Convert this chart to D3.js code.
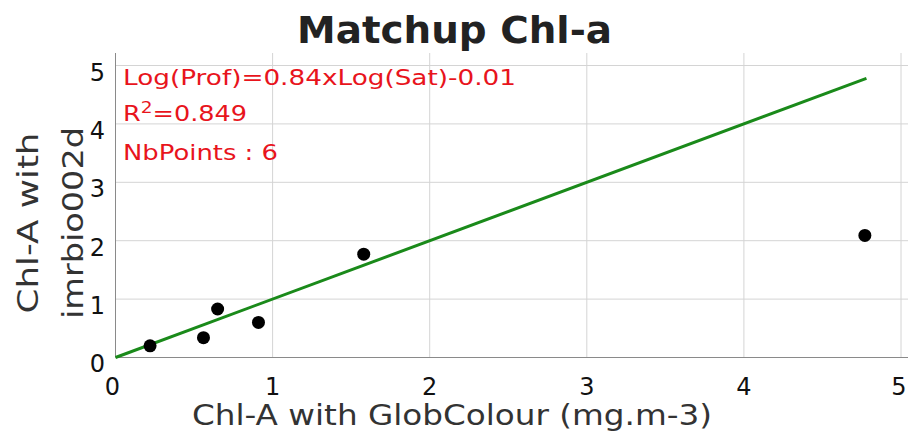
<!DOCTYPE html>
<html><head><meta charset="utf-8">
<script src="https://cdn.jsdelivr.net/npm/d3@7"></script>
<style>body{margin:0;background:#fff}svg{display:block}</style>
</head><body>
<script>
const satValues = [0.22, 0.56, 0.65, 0.91, 1.58, 4.77];
const profValues = [0.20, 0.34, 0.83, 0.60, 1.77, 2.09];
const xTicks = [0, 1, 2, 3, 4, 5];
const yTicks = [0, 1, 2, 3, 4, 5];
const fitLine = [[0, 0], [4.78, 4.78]];
const annotations = ["Log(Prof)=0.84xLog(Sat)-0.01", "R2=0.849", "NbPoints : 6"];
const title = "Matchup Chl-a";
const xTitle = "Chl-A with GlobColour (mg.m-3)";
const yTitle = ["Chl-A with", "imrbio002d"];

const W = 909, H = 443;
const svg = d3.select("body").append("svg").attr("width", W).attr("height", H);
const x = d3.scaleLinear().domain([0, 5]).range([115.5, 901]);
const y = d3.scaleLinear().domain([0, 5]).range([357.5, 65.5]);
const font = "DejaVu Sans, Verdana, sans-serif";
const plotTop = 53, plotRight = 908;

// grid
svg.append("g").selectAll("line").data(xTicks.slice(1)).join("line")
  .attr("x1", d => x(d)).attr("x2", d => x(d)).attr("y1", plotTop).attr("y2", y(0))
  .attr("stroke", "#d4d4d4").attr("stroke-width", 1);
svg.append("g").selectAll("line").data(yTicks.slice(1)).join("line")
  .attr("x1", x(0)).attr("x2", plotRight).attr("y1", d => y(d)).attr("y2", d => y(d))
  .attr("stroke", "#d4d4d4").attr("stroke-width", 1);
// axes lines
svg.append("line").attr("x1", x(0)).attr("x2", x(0)).attr("y1", plotTop).attr("y2", y(0)).attr("stroke", "#8a8a8a");
svg.append("line").attr("x1", x(0)).attr("x2", plotRight).attr("y1", y(0)).attr("y2", y(0)).attr("stroke", "#8a8a8a");

// tick labels
svg.append("g").selectAll("text").data(yTicks).join("text")
  .attr("x", 105).attr("y", d => y(d) + (d === 0 ? 14 : 15)).attr("text-anchor", "end")
  .attr("font-family", font).attr("font-size", 24).attr("fill", "#111").text(d => d);
svg.append("g").selectAll("text").data(xTicks).join("text")
  .attr("x", d => x(d) + (d === 0 ? -3 : d === 5 ? -2 : 0)).attr("y", 395).attr("text-anchor", "middle")
  .attr("font-family", font).attr("font-size", 24).attr("fill", "#111").text(d => d);

// fit line
svg.append("path").datum(fitLine)
  .attr("d", d3.line().x(d => x(d[0])).y(d => y(d[1])))
  .attr("stroke", "#1a8a1a").attr("stroke-width", 3).attr("fill", "none");

// points
svg.append("g").selectAll("circle").data(satValues.map((v, i) => [v, profValues[i]])).join("circle")
  .attr("cx", d => x(d[0])).attr("cy", d => y(d[1])).attr("r", 6.5).attr("fill", "#000");

// annotations
const ann = svg.append("g").attr("font-family", font).attr("font-size", 22).attr("fill", "#e8141c");
ann.append("text").attr("x", 123).attr("y", 85)
  .attr("textLength", 393).attr("lengthAdjust", "spacingAndGlyphs").text(annotations[0]);
const r2 = ann.append("text").attr("x", 123).attr("y", 121)
  .attr("textLength", 124).attr("lengthAdjust", "spacingAndGlyphs");
r2.append("tspan").text("R");
r2.append("tspan").attr("dy", -8).attr("font-size", 16).text("2");
r2.append("tspan").attr("dy", 8).text(annotations[1].slice(2));
ann.append("text").attr("x", 123).attr("y", 160)
  .attr("textLength", 155).attr("lengthAdjust", "spacingAndGlyphs").text(annotations[2]);

// title
svg.append("text").attr("x", 454.5).attr("y", 43).attr("text-anchor", "middle")
  .attr("textLength", 315).attr("lengthAdjust", "spacingAndGlyphs")
  .attr("font-family", font).attr("font-weight", "bold").attr("font-size", 38).attr("fill", "#222").text(title);

// axis titles
svg.append("text").attr("x", 452).attr("y", 425).attr("text-anchor", "middle")
  .attr("textLength", 520).attr("lengthAdjust", "spacingAndGlyphs")
  .attr("font-family", font).attr("font-size", 28).attr("fill", "#333").text(xTitle);
const yt = svg.append("g").attr("transform", "translate(0,223) rotate(-90)");
const yLens = [181, 192];
yTitle.forEach((t, i) => yt.append("text").attr("x", 0).attr("y", 38 + i * 45).attr("text-anchor", "middle")
  .attr("textLength", yLens[i]).attr("lengthAdjust", "spacingAndGlyphs")
  .attr("font-family", font).attr("font-size", 28).attr("fill", "#333").text(t));
</script>
</body></html>
